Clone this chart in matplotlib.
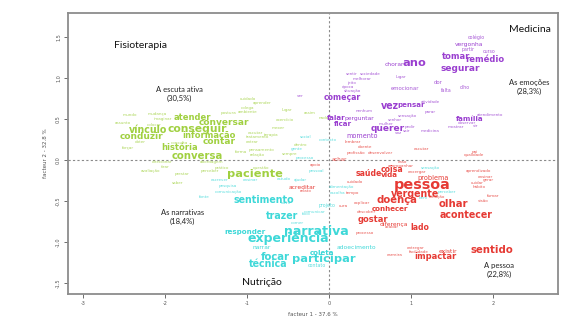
import matplotlib
matplotlib.use("Agg")
import matplotlib.pyplot as plt

# Factor map of the four lexical classes (factor 1 x factor 2).
# Each entry: (word, factor 1 coordinate, factor 2 coordinate, font size)

EMOCOES = [
    ("colégio", 1.80, 1.49, 4), ("vergonha", 1.70, 1.41, 5), ("partir", 1.70, 1.34, 4),
    ("curso", 1.95, 1.32, 4), ("tomar", 1.55, 1.26, 7), ("remédio", 1.90, 1.23, 7),
    ("chorar", 0.80, 1.16, 5), ("ano", 1.04, 1.18, 9.5), ("segurar", 1.60, 1.11, 7.5),
    ("dor", 1.33, 0.94, 4.5), ("emocionar", 0.93, 0.87, 4.5), ("falta", 1.43, 0.85, 4),
    ("olho", 1.66, 0.88, 4), ("vez", 0.74, 0.66, 8), ("pensar", 1.00, 0.67, 6),
    ("atividade", 1.23, 0.71, 3.5), ("parar", 1.23, 0.59, 3.5), ("começar", 0.16, 0.76, 6.5),
    ("ver", -0.35, 0.78, 3.5), ("sentir", 0.28, 1.05, 3.5), ("sociedade", 0.50, 1.05, 3.5),
    ("melhorar", 0.40, 0.99, 3.5), ("jeito", 0.28, 0.94, 3.5), ("época", 0.23, 0.89, 3.5),
    ("situação", 0.28, 0.84, 3.5), ("lugar", 0.88, 1.01, 3.5), ("falar", 0.09, 0.51, 6),
    ("perguntar", 0.37, 0.51, 5), ("ficar", 0.17, 0.44, 6), ("querer", 0.72, 0.38, 7.5),
    ("momento", 0.40, 0.29, 5.5), ("nenhum", 0.43, 0.60, 3.5), ("sensação", 0.96, 0.54, 3.5),
    ("senhor", 0.80, 0.49, 3.5), ("mulher", 0.70, 0.44, 3.5), ("pedir", 0.98, 0.40, 3.5),
    ("sair", 0.94, 0.35, 3.5), ("voz", 0.84, 0.33, 3.5), ("medicina", 1.23, 0.35, 3.5),
    ("família", 1.72, 0.50, 6), ("atendimento", 1.96, 0.55, 3.5), ("observar", 1.68, 0.45, 3.5),
    ("mostrar", 1.54, 0.40, 3.5), ("vir", 1.79, 0.41, 3.5),
]

ESCUTA = [
    ("conseguir", -1.60, 0.38, 9), ("vínculo", -2.20, 0.37, 8), ("conduzir", -2.28, 0.29, 7.5),
    ("atender", -1.66, 0.52, 7), ("conversar", -1.28, 0.46, 7.5), ("informação", -1.46, 0.30, 7),
    ("contar", -1.34, 0.22, 7.5), ("história", -1.82, 0.15, 7), ("conversa", -1.60, 0.05, 8.5),
    ("paciente", -0.90, -0.17, 9.5), ("mundo", -2.43, 0.55, 3.5), ("mudança", -2.09, 0.56, 3.5),
    ("imaginar", -2.02, 0.50, 3.5), ("assunto", -2.51, 0.45, 3.5), ("colocar", -2.13, 0.43, 3.5),
    ("obter", -2.30, 0.22, 3.5), ("forçar", -2.45, 0.15, 3.5), ("consulta", -1.82, 0.21, 3.5),
    ("entrar", -0.94, 0.22, 3.5), ("escutar", -0.90, 0.33, 3.5), ("tratamento", -0.87, 0.28, 3.5),
    ("pensamento", -0.82, 0.12, 3.5), ("relação", -0.88, 0.06, 3.5), ("forma", -1.07, 0.10, 3.5),
    ("direcionar", -2.04, -0.02, 3.5), ("tirar", -2.00, -0.09, 3.5), ("avaliação", -2.18, -0.13, 3.5),
    ("perceber", -1.45, -0.13, 3.5), ("prático", -1.30, -0.10, 3.5), ("questão", -0.83, -0.10, 3.5),
    ("prestar", -1.79, -0.17, 3.5), ("saber", -1.84, -0.28, 3.5), ("abordagem", -1.43, -0.02, 3.5),
    ("cuidado", -0.99, 0.74, 3.5), ("aprender", -0.82, 0.70, 3.5), ("colega", -0.99, 0.63, 3.5),
    ("ambiente", -0.99, 0.59, 3.5), ("lugar", -0.51, 0.61, 3.5), ("mexer", -0.62, 0.39, 3.5),
    ("terapia", -0.70, 0.30, 3.5), ("assim", -0.23, 0.57, 3.5), ("nada", -0.07, 0.51, 3.5),
    ("exercício", -0.54, 0.49, 3.5), ("postura", -1.23, 0.57, 3.5), ("dentro", -0.35, 0.18, 3.5),
    ("sempre", -0.48, 0.07, 3.5),
]

NARRATIVAS = [
    ("sentimento", -0.79, -0.48, 8), ("trazer", -0.57, -0.68, 8), ("narrativa", -0.15, -0.87, 10.5),
    ("experiência", -0.49, -0.96, 10.5), ("responder", -1.02, -0.88, 6), ("narrar", -0.82, -1.06, 5),
    ("focar", -0.65, -1.18, 8.5), ("participar", -0.06, -1.21, 9.5), ("técnica", -0.74, -1.26, 8),
    ("coleta", -0.09, -1.13, 6), ("contato", -0.15, -1.28, 4), ("adoecimento", 0.34, -1.07, 5),
    ("projeto", -0.02, -0.55, 4), ("escrever", -1.33, -0.24, 3.5), ("pesquisa", -1.23, -0.32, 3.5),
    ("comunicação", -1.23, -0.39, 3.5), ("ensinar", -0.96, -0.24, 3.5), ("fonte", -1.52, -0.45, 3.5),
    ("ajudar", -0.35, -0.24, 3.5), ("estudo", -0.55, -0.23, 3.5), ("alimentação", 0.15, -0.33, 3.5),
    ("escolha", 0.10, -0.40, 3.5), ("ouvir", -0.52, -0.52, 3.5), ("comer", -0.39, -0.77, 3.5),
    ("comunicar", -0.17, -0.63, 3.5), ("foco", -0.28, -0.66, 3.5), ("gente", -0.39, 0.13, 3.5),
    ("processo", -0.30, 0.02, 3.5), ("social", -0.28, 0.28, 3.5), ("contexto", -0.01, 0.24, 3.5),
    ("pessoal", -0.15, -0.13, 3.5), ("perceber", 1.44, -0.39, 3.5), ("sensação", 1.23, -0.10, 3.5),
    ("bem", 1.15, -0.46, 3.5),
]

PESSOA = [
    ("pessoa", 1.13, -0.30, 12), ("vergente", 1.05, -0.41, 8), ("doença", 0.83, -0.48, 8.5),
    ("olhar", 1.51, -0.54, 8.5), ("acontecer", 1.67, -0.67, 8), ("sentido", 1.99, -1.10, 8.5),
    ("saúde", 0.49, -0.16, 6.5), ("coisa", 0.77, -0.12, 6.5), ("vida", 0.74, -0.18, 6),
    ("problema", 1.27, -0.22, 5.5), ("conhecer", 0.74, -0.59, 6), ("gostar", 0.54, -0.72, 7),
    ("diferença", 0.79, -0.78, 5), ("lado", 1.11, -0.82, 6.5), ("impactar", 1.29, -1.17, 7),
    ("existir", 1.45, -1.11, 5), ("achar", 0.13, 0.01, 4.5), ("aprendizado", 1.82, -0.13, 3.5),
    ("fumar", 2.00, -0.44, 3.5), ("visão", 1.88, -0.50, 3.5), ("cuidar", 1.80, -0.28, 3.5),
    ("ensinar", 1.91, -0.21, 3.5), ("gerar", 1.94, -0.24, 3.5), ("hábito", 1.83, -0.33, 3.5),
    ("enxergar", 1.07, -0.15, 3.5), ("emoção", 1.32, -0.45, 3.5), ("escutar", 1.13, 0.13, 3.5),
    ("pai", 1.78, 0.10, 3.5), ("qualidade", 1.77, 0.06, 3.5), ("lembrar", 0.29, 0.22, 3.5),
    ("doente", 0.44, 0.16, 3.5), ("profissão", 0.33, 0.09, 3.5), ("desenvolver", 0.63, 0.09, 3.5),
    ("caso", 0.90, -0.02, 3.5), ("acompanhar", 0.87, -0.07, 3.5), ("apoio", -0.17, -0.06, 3.5),
    ("cuidado", 0.32, -0.27, 3.5), ("tempo", 0.29, -0.40, 3.5), ("relato", -0.28, -0.38, 3.5),
    ("acreditar", -0.33, -0.33, 5), ("cura", 0.18, -0.56, 3.5), ("explicar", 0.40, -0.52, 3.5),
    ("descobrir", 0.46, -0.63, 3.5), ("processo", 0.43, -0.89, 3.5), ("acabar", 0.76, -0.82, 3.5),
    ("entregar", 1.05, -1.07, 3.5), ("facilidade", 1.09, -1.12, 3.5), ("carreira", 0.80, -1.16, 3.5),
]

CLASSES = [
    (ESCUTA, "#a0d040"),
    (EMOCOES, "#9a3fd0"),
    (PESSOA, "#e63a34"),
    (NARRATIVAS, "#3ed8d8"),
]

# Area titles and class labels with their share of the corpus
AREAS = [("Fisioterapia", -2.30, 1.40), ("Medicina", 2.45, 1.59), ("Nutrição", -0.82, -1.49)]
CLASS_LABELS = [
    ("A escuta ativa\n(30,5%)", -1.82, 0.81),
    ("As emoções\n(28,3%)", 2.44, 0.89),
    ("As narrativas\n(18,4%)", -1.79, -0.69),
    ("A pessoa\n(22,8%)", 2.07, -1.34),
]

X_TICKS = [-3, -2, -1, 0, 1, 2]
Y_TICKS = [-1.5, -1.0, -0.5, 0.0, 0.5, 1.0, 1.5]
X_LABEL = "facteur 1 - 37.6 %"
Y_LABEL = "facteur 2 - 32.8 %"

# words are drawn a little smaller than the listed size, the larger ones in bold
SIZE_SCALE = 0.86

fig = plt.figure(figsize=(5.8, 3.26), dpi=100)
ax = fig.add_axes([68 / 580, 32 / 326, 490 / 580, 281 / 326])
ax.set_xlim(-3.18, 2.79)
ax.set_ylim(-1.63, 1.79)

ax.axhline(0, color="#8a8a8a", lw=0.8, ls=(0, (2, 2)), zorder=0)
ax.axvline(0, color="#8a8a8a", lw=0.8, ls=(0, (2, 2)), zorder=0)

for words, color in CLASSES:
    for word, x, y, size in words:
        weight = "bold" if size >= 6 else "normal"
        alpha = 0.85 if size < 5 else 1.0
        ax.text(x, y, word, color=color, fontsize=size * SIZE_SCALE, fontweight=weight,
                alpha=alpha, ha="center", va="center", family="DejaVu Sans")

for name, x, y in AREAS:
    ax.text(x, y, name, fontsize=7.5, ha="center", va="center", family="Lato", color="#111111")
for name, x, y in CLASS_LABELS:
    ax.text(x, y, name, fontsize=5.5, ha="center", va="center", family="Lato",
            color="#222222", linespacing=1.3)

ax.set_xticks(X_TICKS)
ax.set_xticklabels([str(t) for t in X_TICKS])
ax.set_yticks(Y_TICKS)
ax.set_yticklabels([f"{t:.1f}" for t in Y_TICKS], rotation=90, va="center")
ax.tick_params(length=3, width=0.6, color="#555555", labelsize=3.5, labelcolor="#555555", pad=2)
ax.set_xlabel(X_LABEL, fontsize=4, color="#555555", labelpad=4)
ax.set_ylabel(Y_LABEL, fontsize=4, color="#555555", labelpad=6)

for spine in ax.spines.values():
    spine.set_color("#8c8c8c")
    spine.set_linewidth(1.3)

fig.savefig("out.png", dpi=100, facecolor="white")
